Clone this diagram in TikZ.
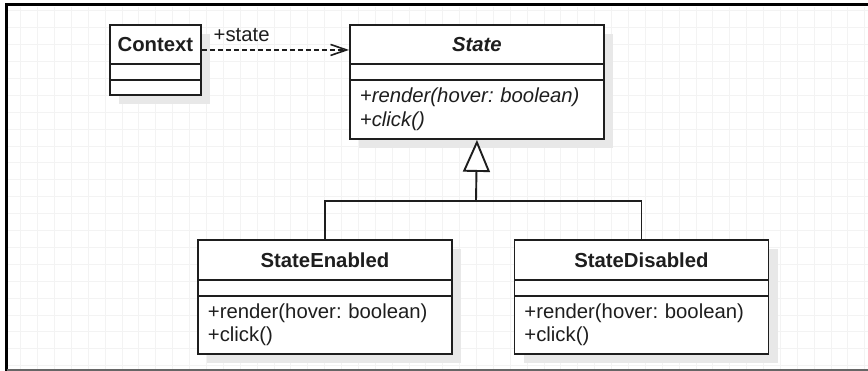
\documentclass[tikz,border=0pt]{standalone}
\usepackage{fontspec}
\setmainfont{Liberation Sans}
\usetikzlibrary{arrows.meta}
\frenchspacing
\definecolor{ink}{HTML}{1E1E1E}
\definecolor{gridc}{HTML}{F3F3F3}
\definecolor{shade}{HTML}{E8E8E8}
\definecolor{edge}{HTML}{666666}
\tikzset{
  cls/.style={draw=ink, line width=1.9pt, fill=white, inner sep=0pt, anchor=north west, text=ink},
  clsname/.style={cls, font=\fontsize{20.3pt}{24pt}\selectfont\bfseries},
  clsattr/.style={cls, minimum height=16pt},
  clsops/.style={cls, align=left, text width=234pt, inner xsep=10pt, inner ysep=0pt,
    font=\fontsize{20.3pt}{23.5pt}\selectfont},
  shadowbox/.style={fill=shade},
  gridline/.style={draw=gridc, line width=0.8pt},
  depend/.style={draw=ink, line width=1.6pt, dash pattern=on 5pt off 3pt,
    -{Straight Barb[length=16pt, width=11pt, line width=1.6pt]}},
  inherit/.style={draw=ink, line width=1.9pt,
    -{Triangle[open, length=32pt, width=27pt, fill=white, line width=1.9pt]}},
  plainline/.style={draw=ink, line width=1.9pt},
  lbl/.style={font=\fontsize{20.3pt}{24pt}\selectfont, text=ink, inner sep=0pt}
}
\begin{document}
\begin{tikzpicture}[x=1pt, y=-1pt]
\useasboundingbox (0,0) rectangle (868,371);
\fill[white] (0,0) rectangle (868,371);
% grid
\foreach \i in {0,...,50} \draw[gridline] ({20.7+16.88*\i},7) -- ({20.7+16.88*\i},369);
\foreach \j in {0,...,21} \draw[gridline] (8,{10.8+16.9*\j}) -- (868,{10.8+16.9*\j});
% frame
\draw[black, line width=3pt] (5,5) -- (868,5);
\draw[black, line width=3pt] (6.5,5) -- (6.5,371);
\draw[edge, line width=2pt] (6.5,370) -- (868,370);
% shadows
\fill[shadowbox] (119,34) rectangle (210,104);
\fill[shadowbox] (359,34) rectangle (613,148);
\fill[shadowbox] (207,249) rectangle (461,363);
\fill[shadowbox] (523.5,249) rectangle (777.5,363);
% Context
\node[clsname, minimum width=91pt, minimum height=39pt] (ctx) at (109,24) {Context};
\node[clsattr, minimum width=91pt] (ctxattr) at (109,63) {};
\node[cls, minimum width=91pt, minimum height=15pt] (ctxops) at (109,79) {};
% State
\node[clsname, font=\fontsize{20.3pt}{24pt}\selectfont\bfseries\itshape, minimum width=254pt, minimum height=39pt] (state) at (349,24) {State};
\node[clsattr, minimum width=254pt] (stateattr) at (349,63) {};
\node[clsops, minimum width=254pt, minimum height=59pt, font=\fontsize{20.3pt}{23.5pt}\selectfont\itshape] (stateops) at (349,79) {+render(hover: boolean)\\+click()};
% StateEnabled
\node[clsname, minimum width=254pt, minimum height=40pt] (en) at (197,239) {StateEnabled};
\node[clsattr, minimum width=254pt] (enattr) at (197,279) {};
\node[clsops, minimum width=254pt, minimum height=58pt] (enops) at (197,295) {+render(hover: boolean)\\+click()};
% StateDisabled
\node[clsname, minimum width=254pt, minimum height=40pt] (dis) at (513.5,239) {StateDisabled};
\node[clsattr, minimum width=254pt] (disattr) at (513.5,279) {};
\node[clsops, minimum width=254pt, minimum height=58pt] (disops) at (513.5,295) {+render(hover: boolean)\\+click()};
% dependency
\draw[depend] ([yshift=-5.5pt]ctx.east) -- node[lbl, pos=0, anchor=base west, xshift=11pt, yshift=8.3pt] {+state} ([yshift=-5.5pt]state.west);
% inheritance
\coordinate (join) at (476,201);
\draw[plainline] (en.north) |- (join) -| (dis.north);
\draw[inherit] (join) -- (stateops.south);
\end{tikzpicture}
\end{document}
